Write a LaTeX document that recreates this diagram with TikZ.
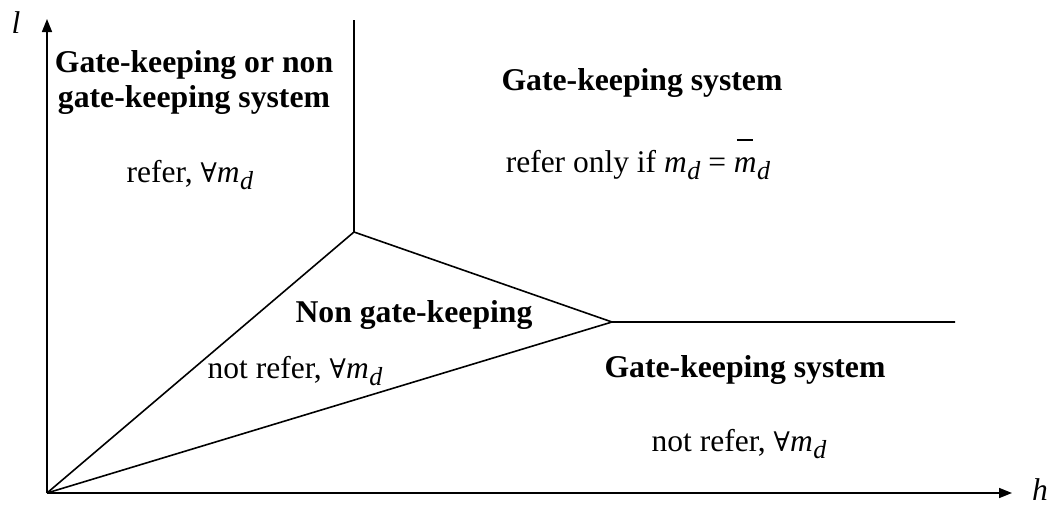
\documentclass[tikz,border=0pt]{standalone}
\usepackage{fontspec}
\setmainfont{Liberation Serif}
\newfontfamily\symfnt{DejaVu Serif}
\usetikzlibrary{arrows.meta}
\newcommand{\subd}{\kern0.5pt\raisebox{-7pt}{\fontsize{26}{30}\selectfont\textit{d}}}
\newcommand{\md}{\textit{m}\subd}
\newcommand{\fa}{{\symfnt\fontsize{27}{32}\selectfont ∀}}
\newcommand{\mdbar}{\makebox[0pt][l]{\kern3pt\raisebox{1.0em}{\rule{0.5em}{1.4pt}}}\textit{m}\subd}
\begin{document}
\begin{tikzpicture}[x=1pt,y=-1pt,
  ln/.style={line width=1.6pt},
  ax/.style={line width=1.6pt,-{Triangle[length=13pt,width=10pt]}},
  head/.style={font=\fontsize{31.7}{36}\selectfont\bfseries,inner sep=0pt,anchor=base},
  txt/.style={font=\fontsize{31.5}{36}\selectfont,inner sep=0pt,anchor=base}]
\useasboundingbox (0,0) rectangle (1056,506);
\coordinate (O) at (47,493);
\coordinate (Ytip) at (47,19);
\coordinate (Xtip) at (1012,493);
\coordinate (A) at (354,232);
\coordinate (Atop) at (354,20);
\coordinate (B) at (612,322);
\coordinate (Bend) at (955,322);
\draw[ax] (O) -- (Ytip);
\draw[ax] (O) -- (Xtip);
\draw[ln] (Atop) -- (A) -- (B) -- (Bend);
\draw[ln] (O) -- (A);
\draw[ln] (O) -- (B);
\node[txt] (l) at (16,33) {\textit{l}};
\node[txt] (h) at (1040,500) {\textit{h}};
\node[head] (g1a) at (194,72) {Gate-keeping or non};
\node[head] (g1b) at (194,107) {gate-keeping system};
\node[txt] (r1) at (190,182) {refer,\ \fa\md};
\node[head] (g2) at (642,90) {Gate-keeping system};
\node[txt] (r2) at (638,172) {refer only if\ \md\ =\ \mdbar};
\node[head] (n3) at (414,322) {Non gate-keeping};
\node[txt] (r3) at (295,378) {not refer,\ \fa\md};
\node[head] (g4) at (745,377) {Gate-keeping system};
\node[txt] (r4) at (739,451) {not refer,\ \fa\md};
\end{tikzpicture}
\end{document}
